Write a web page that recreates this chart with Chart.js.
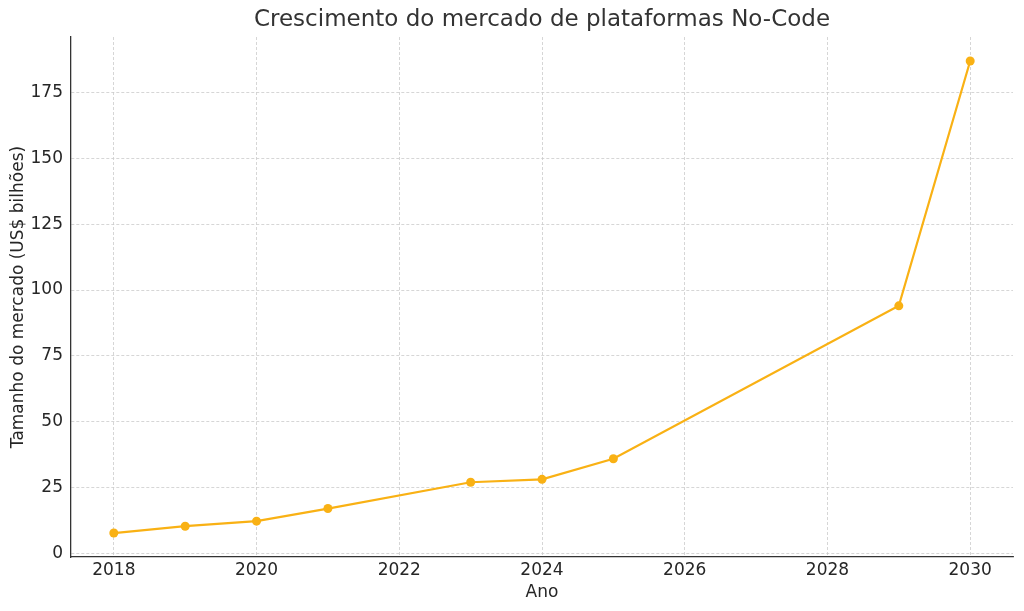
<!DOCTYPE html>
<html>
<head>
<meta charset="utf-8">
<script src="https://cdn.jsdelivr.net/npm/chart.js@4/dist/chart.umd.min.js"></script>
<style>
  html, body { margin: 0; padding: 0; background: #fff; }
  #wrap { width: 1024px; height: 611px; position: relative; }
</style>
</head>
<body>
<div id="wrap"><canvas id="myChart"></canvas></div>
<script>
var anos = [2018, 2019, 2020, 2021, 2023, 2024, 2025, 2029, 2030];
var tamanho = [7.7, 10.3, 12.2, 17.0, 27.0, 28.1, 35.9, 94.0, 187.0];
var xTicks = [2018, 2020, 2022, 2024, 2026, 2028, 2030];
var yTicks = [0, 25, 50, 75, 100, 125, 150, 175];
var titulo = "Crescimento do mercado de plataformas No-Code";

var lineColor = "#F9B114";
var gridColor = "#cccccc";
var textColor = "#262626";

var points = [];
for (var i = 0; i < anos.length; i++) {
  points.push({ x: anos[i], y: tamanho[i] });
}

// title centred over the plot area, like matplotlib does
var titlePlugin = {
  id: "axesTitle",
  afterDraw: function (chart) {
    var ctx = chart.ctx;
    var area = chart.chartArea;
    ctx.save();
    ctx.fillStyle = "#333333";
    ctx.font = "23px 'DejaVu Sans'";
    ctx.textAlign = "center";
    ctx.textBaseline = "middle";
    ctx.fillText(titulo, (area.left + area.right) / 2, 20);
    ctx.restore();
  }
};

new Chart("myChart", {
  type: "line",
  data: {
    datasets: [{
      data: points,
      borderColor: lineColor,
      backgroundColor: lineColor,
      borderWidth: 2.2,
      pointRadius: 4.5,
      pointHoverRadius: 4.5,
      pointBorderWidth: 0,
      tension: 0,
      fill: false
    }]
  },
  plugins: [titlePlugin],
  options: {
    responsive: true,
    maintainAspectRatio: false,
    animation: false,
    layout: { padding: { left: 0, right: 11, top: 37, bottom: 0 } },
    plugins: {
      legend: { display: false },
      tooltip: { enabled: false },
      title: { display: false }
    },
    scales: {
      x: {
        type: "linear",
        min: 2017.4,
        max: 2030.6,
        afterBuildTicks: function (scale) {
          scale.ticks = xTicks.map(function (v) { return { value: v }; });
        },
        afterFit: function (scale) { scale.height = 54; },
        ticks: {
          color: textColor,
          font: { family: "DejaVu Sans", size: 17 },
          padding: 3,
          maxRotation: 0,
          callback: function (v) { return String(v); }
        },
        grid: {
          color: gridColor,
          lineWidth: 0.8,
          drawTicks: false
        },
        border: { display: true, color: "#333333", width: 1.3, dash: [3, 2] },
        title: {
          display: true,
          text: "Ano",
          color: textColor,
          font: { family: "DejaVu Sans", size: 17, lineHeight: 1.2 },
          padding: { top: 0, bottom: 8 }
        }
      },
      y: {
        min: -1.4,
        max: 196.1,
        afterBuildTicks: function (scale) {
          scale.ticks = yTicks.map(function (v) { return { value: v }; });
        },
        afterFit: function (scale) { scale.width = 71; },
        ticks: {
          color: textColor,
          font: { family: "DejaVu Sans", size: 17 },
          padding: 8
        },
        grid: {
          color: gridColor,
          lineWidth: 0.8,
          drawTicks: false
        },
        border: { display: true, color: "#333333", width: 1.3, dash: [3, 2] },
        title: {
          display: true,
          text: "Tamanho do mercado (US$ bilhões)",
          color: textColor,
          font: { family: "DejaVu Sans", size: 17, lineHeight: 1.2 },
          padding: { top: 8, bottom: 0 }
        }
      }
    }
  }
});
</script>
</body>
</html>
